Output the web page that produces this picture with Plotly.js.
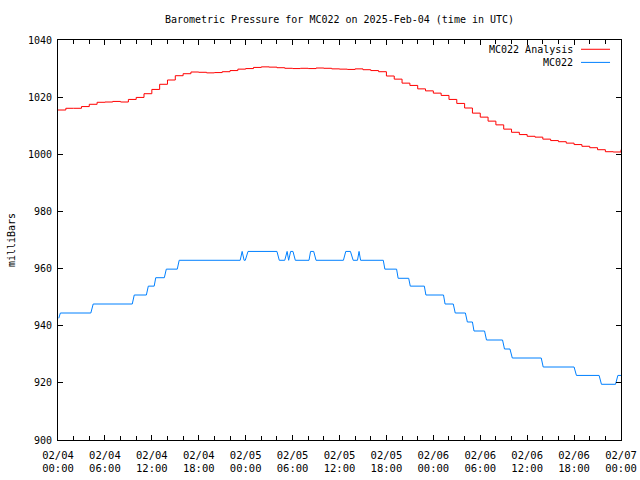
<!DOCTYPE html>
<html>
<head>
<meta charset="utf-8">
<script src="https://cdn.plot.ly/plotly-3.0.1.min.js"></script>
<style>html,body{margin:0;padding:0;background:#fff;}#chart{width:640px;height:480px;}</style>
</head>
<body>
<div id="chart"></div>
<script>
// ---- Data (hours after 2025-02-04 00:00 UTC) ----
const analysisHours = [0,1,2,3,4,5,6,7,8,9,10,11,12,13,14,15,16,17,18,19,20,21,22,23,24,25,26,27,28,29,30,31,32,33,34,35,36,37,38,39,40,41,42,43,44,45,46,47,48,49,50,51,52,53,54,55,56,57,58,59,60,61,62,63,64,65,66,67,68,69,70,71,72];
const analysisValues = [1015.5,1016.1,1016.1,1016.7,1017.5,1018.2,1018.3,1018.5,1018.3,1019.2,1019.9,1021.2,1022.7,1024.5,1026.0,1027.5,1028.2,1028.8,1028.7,1028.5,1028.6,1028.9,1029.3,1029.8,1030.0,1030.4,1030.6,1030.5,1030.3,1030.1,1030.0,1030.1,1030.0,1030.2,1030.1,1029.9,1029.8,1029.7,1029.9,1029.6,1029.3,1028.9,1027.4,1026.3,1024.9,1024.1,1022.9,1022.2,1021.4,1020.6,1019.2,1017.8,1016.2,1014.4,1013.0,1011.6,1010.3,1008.8,1007.7,1006.9,1006.3,1006.0,1005.3,1004.8,1004.4,1003.9,1003.4,1002.8,1002.3,1001.6,1000.9,1000.8,1001.6];

const stationHours = [0.1,0.3,4.2,4.5,9.5,9.75,11.3,11.55,12.3,12.5,13.6,13.85,15.25,15.5,23.3,23.55,23.8,23.95,24.3,28.0,28.3,29.0,29.3,29.5,29.75,30.05,30.35,32.1,32.3,32.7,33.0,36.5,36.8,37.4,37.75,38.3,38.5,38.7,41.6,41.8,43.3,43.5,44.85,45.05,46.85,47.05,49.3,49.5,50.55,50.8,52.1,52.35,53.0,53.2,54.55,54.8,56.85,57.1,57.8,58.1,61.8,62.05,66.0,66.3,69.2,69.5,71.3,71.6,72.0];
const stationValues = [942.6,944.45,944.45,947.6,947.6,950.75,950.75,953.85,953.85,956.8,956.8,959.8,959.8,962.9,962.9,966.0,962.9,962.9,966.0,966.0,962.9,962.9,966.0,962.9,966.0,966.0,962.9,962.9,966.0,966.0,962.9,962.9,966.0,966.0,962.9,962.9,966.0,962.9,962.9,959.8,959.8,956.6,956.6,953.85,953.85,950.75,950.75,947.6,947.6,944.45,944.45,941.3,941.3,938.15,938.15,935.0,935.0,931.85,931.85,928.7,928.7,925.55,925.55,922.6,922.6,919.5,919.5,922.6,922.6];

const seriesNames = ["MC022 Analysis", "MC022"];
const seriesColors = ["#ff0000", "#0080ff"];
const titleText = "Barometric Pressure for MC022 on 2025-Feb-04 (time in UTC)";
const yTitle = "milliBars";
const startTime = Date.UTC(2025, 1, 4, 0, 0, 0);

function toDates(hours) {
  return hours.map(h => {
    const d = new Date(startTime + h * 3600000);
    return d.toISOString().replace('T', ' ').substring(0, 19);
  });
}

const font = {family: "DejaVu Sans Mono, Liberation Mono, monospace", size: 10, color: "#000"};
const tickFontX = {family: "DejaVu Sans Mono, Liberation Mono, monospace", size: 10.5, color: "#000"};

const traces = [
  {x: toDates(analysisHours), y: analysisValues, type: "scatter", mode: "lines",
   name: seriesNames[0], line: {color: seriesColors[0], width: 1, shape: "hv"}},
  {x: toDates(stationHours), y: stationValues, type: "scatter", mode: "lines",
   name: seriesNames[1], line: {color: seriesColors[1], width: 1}}
];

const layout = {
  width: 640, height: 480,
  margin: {l: 58, r: 19, t: 40, b: 40},
  paper_bgcolor: "#fff", plot_bgcolor: "#fff",
  showlegend: false,
  font: font,
  title: {text: titleText, font: font, x: 0.5, xref: "paper", y: 1 - 19/480, yref: "container", yanchor: "middle"},
  xaxis: {
    type: "date",
    range: [toDates([0])[0], toDates([72])[0]],
    tick0: toDates([0])[0], dtick: 6 * 3600000,
    tickformat: "%m/%d<br>%H:%M",
    ticks: "inside", ticklen: 5, tickcolor: "#000", tickwidth: 1,
    ticklabelstandoff: 5,
    minor: {dtick: 2 * 3600000, ticks: "inside", ticklen: 4, tickcolor: "#000", showgrid: false},
    showline: true, linecolor: "#000", linewidth: 1, mirror: "ticks",
    showgrid: false, zeroline: false, tickfont: tickFontX
  },
  yaxis: {
    range: [900, 1040], dtick: 20, tick0: 900,
    ticks: "inside", ticklen: 5, tickcolor: "#000", tickwidth: 1,
    ticklabelstandoff: 3,
    showline: true, linecolor: "#000", linewidth: 1, mirror: "ticks",
    showgrid: false, zeroline: false, tickfont: font,
    title: {text: yTitle, font: font, standoff: 10}
  },
  annotations: [
    {text: seriesNames[0], xref: "paper", yref: "paper", x: 0.9185, y: 0.9768, xanchor: "right", yanchor: "middle", showarrow: false, font: font},
    {text: seriesNames[1], xref: "paper", yref: "paper", x: 0.9185, y: 0.944, xanchor: "right", yanchor: "middle", showarrow: false, font: font}
  ],
  shapes: [
    {type: "line", xref: "paper", yref: "paper", x0: 0.929, x1: 0.9805, y0: 0.9768, y1: 0.9768, line: {color: seriesColors[0], width: 1}},
    {type: "line", xref: "paper", yref: "paper", x0: 0.929, x1: 0.9805, y0: 0.944, y1: 0.944, line: {color: seriesColors[1], width: 1}}
  ]
};

Plotly.newPlot("chart", traces, layout, {staticPlot: true, displayModeBar: false});
</script>
</body>
</html>
